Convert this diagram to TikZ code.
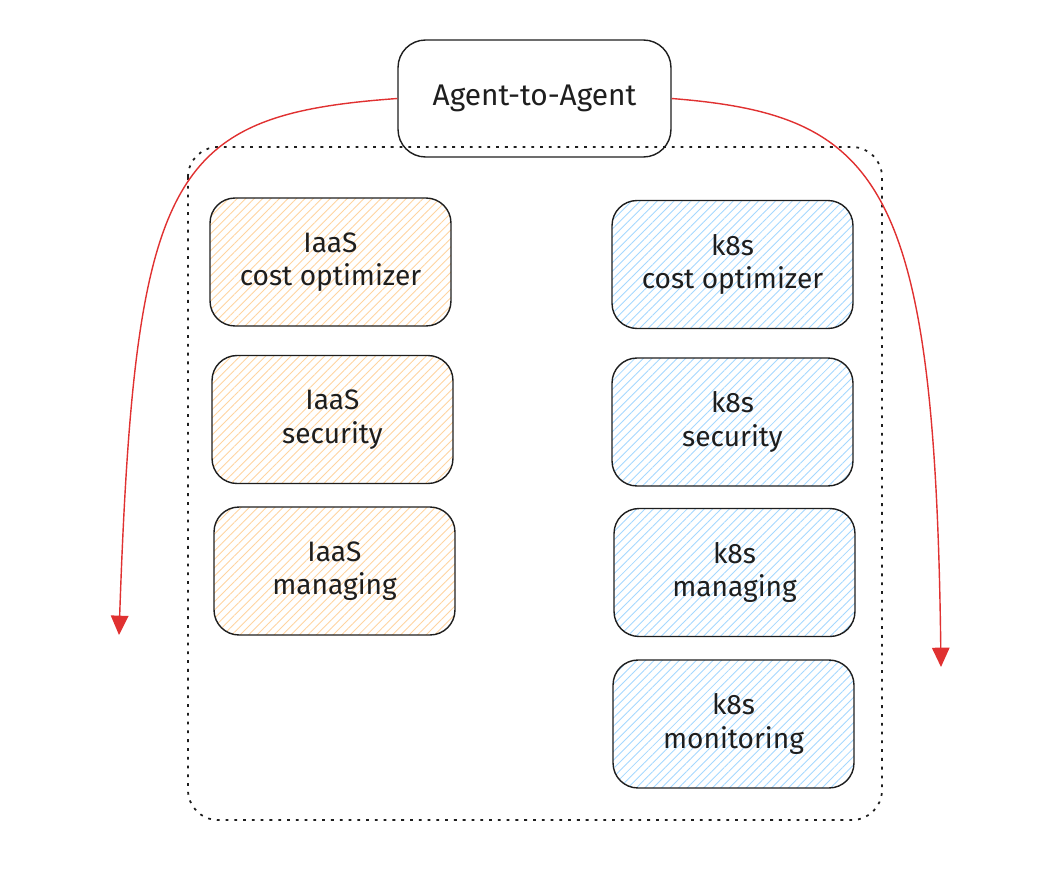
\documentclass[tikz,border=0pt]{standalone}
\usepackage{fontspec}
\setmainfont{Fira Sans}
\usetikzlibrary{arrows.meta,patterns.meta}
\definecolor{inkblack}{HTML}{1E1E1E}
\definecolor{iaasorange}{HTML}{FFD4A0}
\definecolor{kblue}{HTML}{A5D8FF}
\definecolor{linkred}{HTML}{E03131}
\tikzset{
	agentbox/.style={draw=inkblack,line width=0.8pt,rounded corners=0.5cm,minimum width=4.82cm,minimum height=2.56cm,align=center,text=inkblack,font=\fontsize{16}{19}\selectfont},
	iaasbox/.style={agentbox,pattern={Lines[angle=45,distance=3.4pt,line width=0.5pt]},pattern color=iaasorange},
	kbox/.style={agentbox,pattern={Lines[angle=45,distance=3.4pt,line width=0.5pt]},pattern color=kblue},
	redlink/.style={draw=linkred,line width=0.8pt,-{Triangle[width=10pt,length=11pt]},linkred}
}
\begin{document}
\begin{tikzpicture}[x=0.02cm,y=-0.02cm]
		\useasboundingbox (0,0) rectangle (1038,892);
		\node[draw=inkblack,line width=0.8pt,rounded corners=0.55cm,minimum width=5.46cm,minimum height=2.34cm,text=inkblack,font=\fontsize{17}{19}\selectfont] (a2a) at (534.5,98.5) {Agent-to-Agent};
		\draw[inkblack,line width=1pt,dash pattern=on 1.6pt off 3.4pt,rounded corners=0.6cm] (188,147) rectangle (882,820);
		% IaaS agents
		\node[iaasbox] (iaascost) at (330.5,262) {IaaS\\cost optimizer};
		\node[iaasbox] (iaassec) at (332.5,419.5) {IaaS\\security};
		\node[iaasbox] (iaasman) at (334.5,571) {IaaS\\managing};
		% k8s agents
		\node[kbox] (kcost) at (732.5,264.5) {k8s\\cost optimizer};
		\node[kbox] (ksec) at (732.5,422) {k8s\\security};
		\node[kbox] (kman) at (734.5,572.5) {k8s\\managing};
		\node[kbox] (kmon) at (733.5,724) {k8s\\monitoring};
		% links out of the group
		\coordinate (leftend) at (119,635);
		\coordinate (rightend) at (941,667);
		\draw[redlink] (a2a.west) .. controls (170,115) and (135,170) .. (leftend);
		\draw[redlink] (a2a.east) .. controls (880,115) and (935,180) .. (rightend);
	\end{tikzpicture}
\end{document}
